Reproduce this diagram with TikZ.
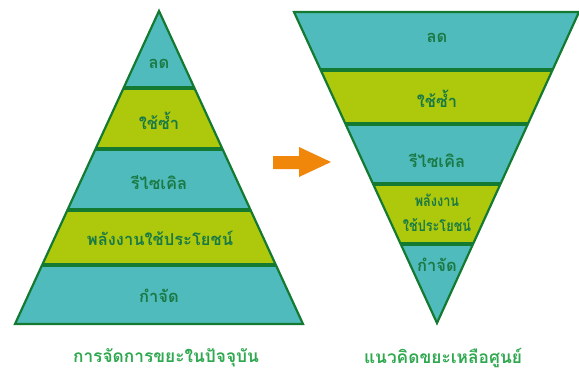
\documentclass[tikz,border=0pt]{standalone}
\usepackage{fontspec}
\newfontfamily\thaifont[Script=Thai]{Loma}
\usetikzlibrary{calc}
\definecolor{tealf}{HTML}{50BBBC}
\definecolor{limef}{HTML}{AEC90B}
\definecolor{edgeg}{HTML}{147A32}
\definecolor{txtg}{HTML}{1A7A45}
\definecolor{titleg}{HTML}{2FA84F}
\definecolor{arrowo}{HTML}{F0870A}
\begin{document}
\begin{tikzpicture}[x=1pt,y=-1pt,
  lbl/.style={font=\thaifont\fontsize{16.5}{18}\selectfont\bfseries, text=txtg, inner sep=0pt},
  lbls/.style={font=\thaifont\fontsize{15.5}{25}\selectfont\bfseries, text=txtg, inner sep=0pt, align=center},
  ttl/.style={font=\thaifont\fontsize{17.3}{19}\selectfont\bfseries, text=titleg, inner sep=0pt},
  divider/.style={edgeg, line width=4pt},
  outline/.style={draw=edgeg, line width=2.2pt, line join=miter}]
\useasboundingbox (0,0) rectangle (579,376);
% ---------- left pyramid ----------
\coordinate (LA) at (159,11);
\coordinate (LL) at (15,324);
\coordinate (LR) at (303,324);
\begin{scope}
  \clip (LA) -- (LL) -- (LR) -- cycle;
  \fill[tealf] (0,0) rectangle (320,88);
  \fill[limef] (0,88) rectangle (320,149);
  \fill[tealf] (0,149) rectangle (320,210);
  \fill[limef] (0,210) rectangle (320,265);
  \fill[tealf] (0,265) rectangle (320,330);
  \draw[divider] (0,88) -- (320,88);
  \draw[divider] (0,149) -- (320,149);
  \draw[divider] (0,210) -- (320,210);
  \draw[divider] (0,265) -- (320,265);
\end{scope}
\draw[outline] (LA) -- (LL) -- (LR) -- cycle;
\node[lbl] (l1) at (159,64) {ลด};
\node[lbl] (l2) at (159,121) {ใช้ซ้ำ};
\node[lbl] (l3) at (159,183) {รีไซเคิล};
\node[lbl] (l4) at (160,238) {พลังงานใช้ประโยชน์};
\node[lbl] (l5) at (159,296) {กำจัด};
\node[ttl] (t1) at (166,358) {การจัดการขยะในปัจจุบัน};
% ---------- arrow ----------
\fill[arrowo] (273,156) -- (299,156) -- (299,147) -- (331,162) -- (299,177) -- (299,169) -- (273,169) -- cycle;
% ---------- right inverted pyramid ----------
\coordinate (RL) at (294,12);
\coordinate (RR) at (579,12);
\coordinate (RA) at (437,323);
\begin{scope}
  \clip (RL) -- (RR) -- (RA) -- cycle;
  \fill[tealf] (280,0) rectangle (590,70);
  \fill[limef] (280,70) rectangle (590,124);
  \fill[tealf] (280,124) rectangle (590,184);
  \fill[limef] (280,184) rectangle (590,244);
  \fill[tealf] (280,244) rectangle (590,330);
  \draw[divider] (280,70) -- (590,70);
  \draw[divider] (280,124) -- (590,124);
  \draw[divider] (280,184) -- (590,184);
  \draw[divider] (280,244) -- (590,244);
\end{scope}
\draw[outline] (RL) -- (RR) -- (RA) -- cycle;
\node[lbl] (r1) at (437,38) {ลด};
\node[lbl] (r2) at (437,99) {ใช้ซ้ำ};
\node[lbl] (r3) at (437,161) {รีไซเคิล};
\node[lbls] (r4) at (437,213) {\scalebox{0.82}[1]{พลังงาน}\\\scalebox{0.82}[1]{ใช้ประโยชน์}};
\node[lbl] (r5) at (437,265) {กำจัด};
\node[ttl] (t2) at (443,358) {แนวคิดขยะเหลือศูนย์};
\end{tikzpicture}
\end{document}
